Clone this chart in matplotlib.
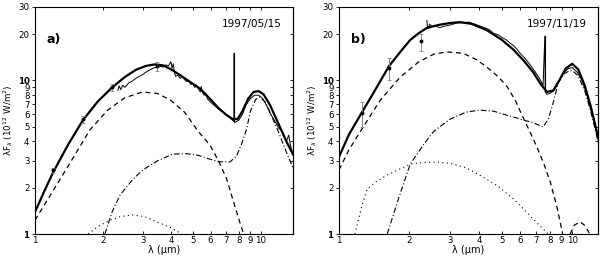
import matplotlib
matplotlib.use("Agg")
import matplotlib.pyplot as plt
from matplotlib.ticker import FixedLocator, NullLocator

# ---- panel a) 1997/05/15 ----
a_model_x = [1.0, 1.1, 1.2, 1.4, 1.63, 1.9, 2.2, 2.5, 2.8, 3.1, 3.4, 3.7, 4.0, 4.4, 5.0, 5.4,
             6.0, 6.5, 7.0, 7.5, 7.9, 8.3, 8.8, 9.3, 9.8, 10.3, 11.0, 12.0, 13.0, 13.9]
a_model_y = [1.39, 1.9, 2.5, 3.8, 5.5, 7.3, 9.0, 10.5, 11.7, 12.4, 12.7, 12.5, 11.8, 10.8, 9.5, 8.8,
             7.5, 6.6, 6.0, 5.6, 5.6, 6.3, 7.6, 8.4, 8.5, 8.1, 6.9, 5.2, 4.0, 3.3]
a_obs_x = [2.33, 2.36, 2.4, 2.45, 2.5, 2.6, 2.7, 2.8, 2.9, 3.0, 3.1, 3.2, 3.3, 3.4, 3.5, 3.6, 3.7,
           3.8, 3.9, 4.0, 4.05, 4.1, 4.15, 4.2, 4.3, 4.4, 4.5, 4.6, 4.7, 4.8, 4.9, 5.0, 5.1, 5.2,
           5.3, 5.4, 5.45, 5.5, 5.6, 5.7, 5.8, 6.0, 6.2, 6.5, 6.8, 7.0, 7.3, 7.5, 7.6, 7.63, 7.66,
           7.8, 8.0, 8.3, 8.6, 9.0, 9.4, 9.8, 10.2, 10.6, 11.0, 11.5, 12.0, 12.5, 13.0, 13.3, 13.6, 13.9]
a_obs_y = [8.6, 9.2, 8.7, 9.3, 9.0, 9.6, 9.9, 10.3, 10.6, 10.9, 11.3, 11.6, 11.9, 12.1, 12.2, 12.3, 12.2,
           12.6, 12.4, 13.2, 12.0, 12.8, 11.2, 10.6, 10.8, 10.3, 10.6, 10.1, 9.8, 9.9, 9.4, 9.5, 9.0, 9.3,
           8.8, 8.4, 9.1, 8.5, 8.0, 8.3, 7.6, 7.2, 6.9, 6.5, 6.2, 6.0, 5.7, 5.5, 5.4, 15.0, 5.3,
           5.4, 5.5, 6.0, 6.9, 7.6, 8.0, 8.0, 7.6, 6.9, 6.1, 5.5, 4.9, 4.6, 4.0, 4.4, 3.7, 3.3]
a_dash_x = [1.0, 1.2, 1.45, 1.75, 2.1, 2.5, 3.0, 3.5, 4.0, 4.6, 5.26, 5.95, 6.5, 7.07, 7.6, 8.0, 8.4]
a_dash_y = [1.23, 1.9, 3.0, 4.75, 6.4, 7.7, 8.4, 8.2, 7.4, 6.2, 4.7, 3.8, 3.0, 2.28, 1.6, 1.25, 1.0]
a_dd_x = [2.04, 2.2, 2.38, 2.7, 3.0, 3.5, 4.08, 4.7, 5.3, 5.95, 6.6, 7.3, 7.8, 8.2, 8.66, 9.0, 9.5,
          9.9, 10.5, 11.0, 12.0, 13.0, 13.9]
a_dd_y = [1.0, 1.4, 1.79, 2.25, 2.61, 3.0, 3.31, 3.33, 3.25, 3.07, 2.95, 2.94, 3.2, 3.8, 4.8, 6.3, 7.5,
          7.8, 7.2, 6.2, 4.6, 3.4, 2.7]
a_dot_x = [1.72, 1.9, 2.15, 2.4, 2.71, 3.05, 3.46, 4.0, 4.47]
a_dot_y = [1.0, 1.12, 1.23, 1.3, 1.33, 1.3, 1.2, 1.1, 1.0]
a_pts_x = [1.2, 1.63, 2.2, 3.46]
a_pts_y = [2.6, 5.6, 9.0, 12.3]
a_err_lo = [0.1, 0.3, 0.5, 0.8]
a_err_hi = [0.1, 0.3, 0.5, 0.9]
a_spike_x = [7.63, 7.63]
a_spike_y = [5.4, 15.0]

# ---- panel b) 1997/11/19 ----
b_model_x = [1.0, 1.1, 1.255, 1.4, 1.64, 1.85, 2.02, 2.2, 2.38, 2.7, 3.0, 3.3, 3.7, 4.3, 5.0, 5.6,
             6.2, 6.8, 7.3, 7.8, 8.3, 8.8, 9.4, 10.0, 10.6, 11.3, 12.0, 12.9]
b_model_y = [3.17, 4.4, 6.2, 8.2, 12.4, 15.6, 18.3, 20.3, 21.9, 23.0, 23.6, 23.9, 23.3, 21.2, 18.3, 15.8,
             13.4, 11.3, 9.5, 8.4, 8.6, 10.0, 12.0, 12.8, 11.8, 9.3, 6.8, 4.3]
b_obs_x = [2.38, 2.4, 2.45, 2.5, 2.6, 2.7, 2.8, 3.0, 3.2, 3.4, 3.6, 3.8, 4.0, 4.2, 4.4, 4.6, 4.8,
           5.0, 5.2, 5.4, 5.6, 5.8, 6.0, 6.3, 6.6, 6.9, 7.2, 7.5, 7.63, 7.66, 7.8, 8.0, 8.3, 8.7,
           9.1, 9.6, 10.0, 10.5, 11.0, 11.5, 12.0, 12.5, 12.9]
b_obs_y = [24.5, 21.8, 23.2, 22.4, 22.6, 22.0, 22.4, 22.9, 23.6, 23.7, 23.9, 23.3, 22.6, 22.0, 21.4, 20.2, 19.8,
           19.0, 18.4, 17.5, 16.8, 15.9, 14.9, 13.8, 12.6, 11.5, 10.4, 9.3, 19.4, 8.4, 8.1, 8.2, 8.5, 9.6,
           11.0, 11.9, 12.1, 11.3, 10.0, 8.3, 6.5, 5.3, 4.1]
b_dash_x = [1.0, 1.1, 1.23, 1.5, 1.83, 2.2, 2.55, 2.9, 3.4, 3.9, 4.3, 4.8, 5.26, 5.7, 6.2, 6.6,
            7.1, 7.6, 8.05, 8.6, 9.1]
b_dash_y = [2.61, 3.5, 4.6, 7.4, 10.5, 13.2, 14.8, 15.3, 15.0, 13.6, 12.2, 10.6, 9.1, 7.4, 5.6, 4.6,
            3.6, 2.8, 2.18, 1.5, 1.0]
b_bump_x = [9.8, 10.2, 10.8, 11.3, 11.9]
b_bump_y = [1.0, 1.14, 1.2, 1.14, 1.0]
b_dd_x = [1.61, 1.8, 2.02, 2.3, 2.53, 2.71, 3.0, 3.5, 4.0, 4.6, 5.1, 5.6, 6.2, 6.8, 7.5, 7.9, 8.3,
          8.7, 9.2, 9.7, 10.0, 10.6, 11.3, 12.0, 12.9]
b_dd_y = [1.0, 1.7, 2.85, 3.8, 4.6, 5.0, 5.6, 6.2, 6.4, 6.3, 6.0, 5.77, 5.5, 5.3, 4.97, 5.6, 7.2,
          9.6, 11.0, 11.5, 11.6, 10.7, 8.6, 6.3, 4.0]
b_dot_x = [1.17, 1.25, 1.32, 1.45, 1.61, 1.8, 2.02, 2.3, 2.63, 3.0, 3.5, 4.0, 4.8, 5.6, 6.2, 6.8, 7.4, 7.9]
b_dot_y = [1.0, 1.5, 1.96, 2.2, 2.42, 2.62, 2.85, 2.92, 2.94, 2.88, 2.7, 2.42, 2.05, 1.69, 1.45, 1.25, 1.1, 1.0]
b_pts_x = [1.255, 1.64, 2.25]
b_pts_y = [6.1, 12.0, 18.0]
b_err_lo = [1.1, 2.0, 2.5]
b_err_hi = [1.1, 2.0, 2.0]
b_spike_x = [7.65, 7.65]
b_spike_y = [8.4, 19.4]

y_ticks = [1, 2, 3, 4, 5, 6, 7, 8, 9, 10, 20, 30]
x_ticks = [1, 2, 3, 4, 5, 6, 7, 8, 9, 10]


def panel(ax, xmax, model, obs, dash, dd, dot, pts, spike, tag, date, bump=None):
    ax.set_xscale("log")
    ax.set_yscale("log")
    ax.set_xlim(1, xmax)
    ax.set_ylim(1, 30)

    ax.errorbar(pts[0], pts[1], yerr=[pts[2], pts[3]], fmt="o", ms=1.8, color="black",
                ecolor="#888888", elinewidth=0.7, capsize=1.5, capthick=0.6, zorder=4)
    ax.plot(obs[0], obs[1], color="black", lw=0.7, zorder=3)
    ax.plot(spike[0], spike[1], color="black", lw=0.8, zorder=3)
    ax.plot(model[0], model[1], color="black", lw=1.6, zorder=2)
    ax.plot(dash[0], dash[1], color="black", lw=0.9, ls=(0, (4, 3)))
    if bump is not None:
        ax.plot(bump[0], bump[1], color="black", lw=0.9, ls=(0, (4, 3)))
    ax.plot(dd[0], dd[1], color="black", lw=0.8, ls=(0, (5, 2, 1, 2)))
    ax.plot(dot[0], dot[1], color="black", lw=0.8, ls=(0, (1, 3)))

    ax.yaxis.set_major_locator(FixedLocator(y_ticks))
    ax.yaxis.set_minor_locator(NullLocator())
    ax.set_yticklabels([str(t) for t in y_ticks])
    for lab in ax.get_yticklabels():
        if lab.get_text() in ("1", "10"):
            lab.set_fontweight("bold")
    ax.xaxis.set_major_locator(FixedLocator(x_ticks))
    ax.xaxis.set_minor_locator(NullLocator())
    ax.set_xticklabels([str(t) for t in x_ticks])

    ax.tick_params(axis="both", labelsize=6.2, length=2.5, width=0.6, pad=1.5)
    ax.tick_params(axis="x", direction="in", top=True)
    ax.tick_params(axis="y", which="both", direction="out", right=False)
    ax2 = ax.secondary_yaxis("right")
    ax2.yaxis.set_major_locator(FixedLocator(y_ticks))
    ax2.yaxis.set_minor_locator(NullLocator())
    ax2.tick_params(direction="in", length=2.5, width=0.6, labelright=False)
    for s in ax.spines.values():
        s.set_linewidth(0.8)

    ax.set_xlabel("λ (μm)", fontsize=7, labelpad=0)
    ax.set_ylabel(r"λF$_\lambda$ (10$^{12}$ W/m$^2$)", fontsize=6.3)
    ax.yaxis.set_label_coords(-0.078, 0.5)
    ax.text(0.045, 0.84, tag, transform=ax.transAxes, fontsize=9, fontweight="bold")
    ax.text(0.955, 0.91, date, transform=ax.transAxes, fontsize=7.5, ha="right")


fig = plt.figure(figsize=(6, 2.64), dpi=100)
axa = fig.add_axes([0.0583, 0.1136, 0.43, 0.86])
axb = fig.add_axes([0.565, 0.1136, 0.4317, 0.86])

panel(axa, 13.9, (a_model_x, a_model_y), (a_obs_x, a_obs_y), (a_dash_x, a_dash_y),
      (a_dd_x, a_dd_y), (a_dot_x, a_dot_y), (a_pts_x, a_pts_y, a_err_lo, a_err_hi),
      (a_spike_x, a_spike_y), "a)", "1997/05/15")
panel(axb, 12.9, (b_model_x, b_model_y), (b_obs_x, b_obs_y), (b_dash_x, b_dash_y),
      (b_dd_x, b_dd_y), (b_dot_x, b_dot_y), (b_pts_x, b_pts_y, b_err_lo, b_err_hi),
      (b_spike_x, b_spike_y), "b)", "1997/11/19", bump=(b_bump_x, b_bump_y))

fig.savefig("out.png", dpi=100)
